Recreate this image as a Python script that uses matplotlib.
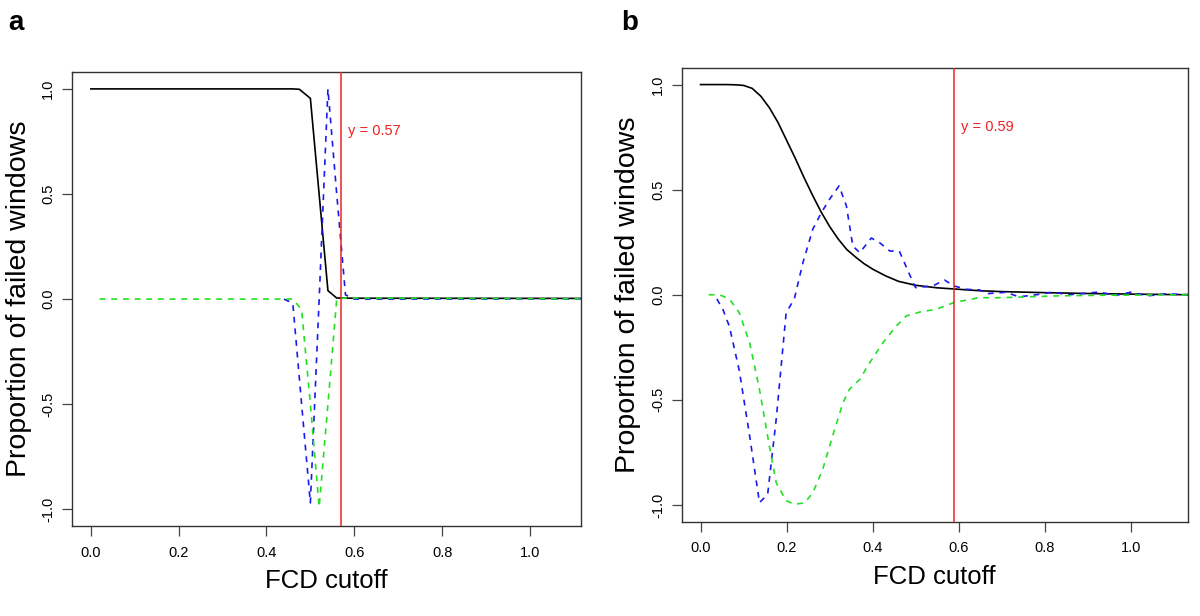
import matplotlib
matplotlib.use("Agg")
import matplotlib.pyplot as plt

plt.rcParams['font.family'] = ['Liberation Sans', 'DejaVu Sans']

# ---- panel a ----
a_black_x = [0.0, 0.46, 0.475, 0.50, 0.54, 0.56, 0.60, 1.20]
a_black_y = [1.0, 1.0, 0.998, 0.955, 0.04, 0.005, 0.004, 0.003]

a_blue_x = [0.44, 0.46, 0.48, 0.50, 0.52, 0.54, 0.56, 0.58, 0.60, 1.20]
a_blue_y = [0.0, -0.02, -0.5, -0.97, 0.0, 1.0, 0.5, 0.02, 0.0, 0.0]

a_green_x = [0.02, 0.46, 0.48, 0.50, 0.52, 0.54, 0.56, 0.58, 1.20]
a_green_y = [0.0, 0.0, -0.05, -0.5, -0.99, -0.5, 0.0, 0.005, 0.0]

a_cut = 0.57

# ---- panel b ----
b_black_x = [0.0, 0.06, 0.08, 0.10, 0.12, 0.14, 0.16, 0.18, 0.20, 0.22, 0.24,
             0.26, 0.28, 0.30, 0.32, 0.34, 0.36, 0.38, 0.40, 0.43, 0.46, 0.50,
             0.55, 0.60, 0.65, 0.70, 0.80, 0.90, 1.00, 1.14]
b_black_y = [1.0, 1.0, 0.999, 0.996, 0.982, 0.945, 0.89, 0.82, 0.735, 0.65, 0.56,
             0.475, 0.395, 0.325, 0.265, 0.215, 0.18, 0.148, 0.122, 0.09, 0.064, 0.045,
             0.033, 0.026, 0.019, 0.015, 0.01, 0.006, 0.003, 0.0]

b_blue_x = [0.038, 0.052, 0.067, 0.09, 0.114, 0.137, 0.156, 0.176, 0.199, 0.218,
            0.238, 0.261, 0.281, 0.30, 0.322, 0.339, 0.354, 0.37, 0.397, 0.416,
            0.44, 0.462, 0.494, 0.50, 0.54, 0.567, 0.589, 0.618, 0.649, 0.664,
            0.71, 0.74, 0.78, 0.818, 0.856, 0.89, 0.926, 0.965, 1.0, 1.04, 1.08, 1.14]
b_blue_y = [-0.02, -0.07, -0.15, -0.36, -0.67, -0.989, -0.95, -0.59, -0.085, -0.02,
            0.153, 0.312, 0.391, 0.455, 0.518, 0.423, 0.232, 0.2, 0.27, 0.248,
            0.208, 0.208, 0.058, 0.034, 0.042, 0.07, 0.042, 0.026, 0.023, 0.005,
            0.012, -0.01, 0.0, 0.012, 0.0, 0.006, 0.013, -0.003, 0.012, -0.005, 0.004, 0.0]

b_green_x = [0.019, 0.044, 0.067, 0.09, 0.114, 0.137, 0.16, 0.176, 0.199, 0.218,
             0.242, 0.261, 0.284, 0.307, 0.331, 0.346, 0.37, 0.393, 0.424, 0.455,
             0.478, 0.51, 0.548, 0.589, 0.649, 0.68, 0.757, 0.835, 0.95, 1.14]
b_green_y = [0.0, 0.0, -0.02, -0.085, -0.228, -0.45, -0.72, -0.895, -0.98, -0.997,
             -0.99, -0.942, -0.83, -0.672, -0.514, -0.45, -0.403, -0.324, -0.228, -0.149,
             -0.101, -0.082, -0.069, -0.037, -0.013, -0.015, -0.01, -0.005, -0.002, 0.0]

b_cut = 0.59

xticks = [0.0, 0.2, 0.4, 0.6, 0.8, 1.0]
yticks = [-1.0, -0.5, 0.0, 0.5, 1.0]

BLUE = "#1a1aee"
GREEN = "#22e022"
RED = "#ee2222"


def panel(ax, bx, by, ux, uy, gx, gy, cut, xlim):
    ax.plot(bx, by, color="black", lw=1.2, zorder=2)
    ax.plot(ux, uy, color=BLUE, lw=1.2, dashes=(3.5, 3.5), zorder=3)
    ax.plot(gx, gy, color=GREEN, lw=1.2, dashes=(3.5, 3.5), zorder=3)
    ax.axvline(cut, color=RED, lw=1.1, zorder=4)
    ax.text(cut + 0.015, 0.8, "y = %.2f" % cut, color=RED, fontsize=10.5,
            va="center", ha="left")
    ax.set_xlim(*xlim)
    ax.set_ylim(-1.08, 1.08)
    ax.set_xticks(xticks)
    ax.set_yticks(yticks)
    ax.set_xticklabels(["%.1f" % t for t in xticks])
    ax.set_yticklabels(["%.1f" % t for t in yticks], rotation=90, va="center")
    ax.tick_params(direction="out", length=7, width=0.9, color="#444444",
                   labelsize=10.5)
    ax.tick_params(axis="x", pad=7)
    ax.tick_params(axis="y", pad=5)
    for s in ax.spines.values():
        s.set_color("#333333")
        s.set_linewidth(1.0)
    ax.set_xlabel("FCD cutoff", fontsize=18.5, labelpad=7)
    ax.set_ylabel("Proportion of failed windows", fontsize=20.5, labelpad=7)


fig = plt.figure(figsize=(12, 6.16), dpi=100)
ax1 = fig.add_axes([0.060, 0.146, 0.424, 0.737])
ax2 = fig.add_axes([0.568, 0.153, 0.422, 0.737])

panel(ax1, a_black_x, a_black_y, a_blue_x, a_blue_y, a_green_x, a_green_y,
      a_cut, (-0.043, 1.116))
panel(ax2, b_black_x, b_black_y, b_blue_x, b_blue_y, b_green_x, b_green_y,
      b_cut, (-0.044, 1.133))

fig.text(0.007, 0.962, "a", fontsize=20, fontweight="bold", va="center")
fig.text(0.518, 0.962, "b", fontsize=20, fontweight="bold", va="center")

fig.savefig("out.png", dpi=100)
